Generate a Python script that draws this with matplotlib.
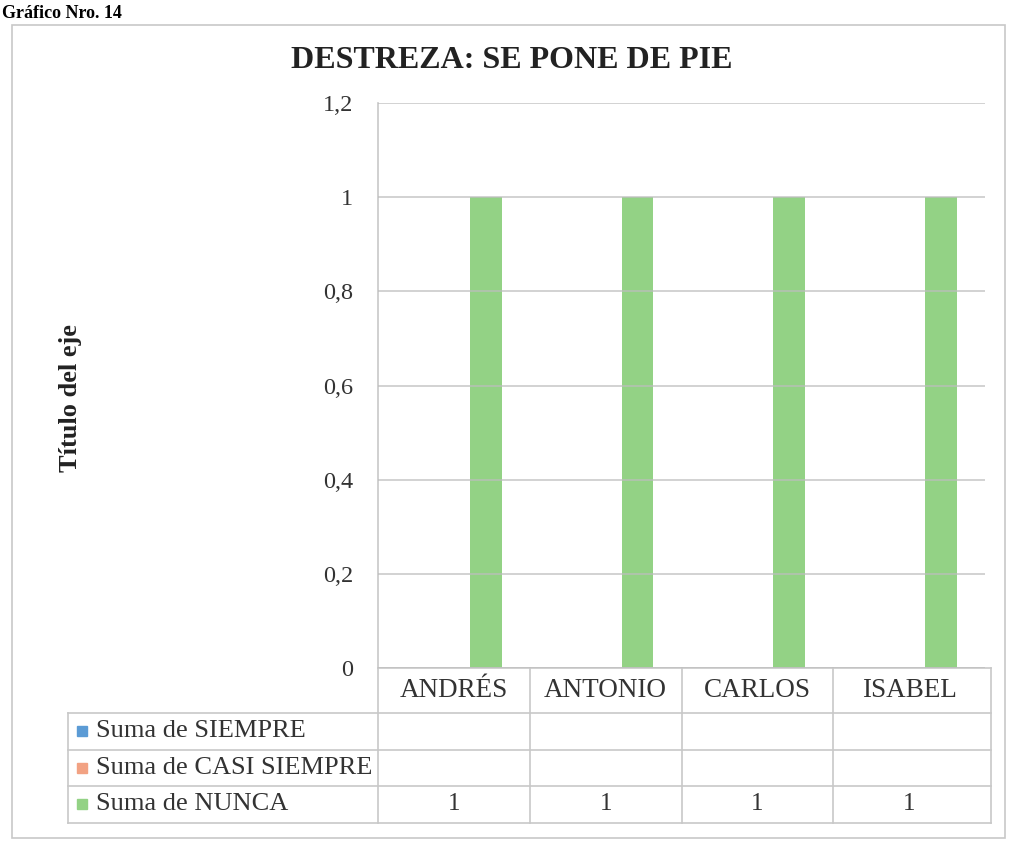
import numpy as np
import matplotlib
matplotlib.use("Agg")
import matplotlib.pyplot as plt
import matplotlib.transforms as mtransforms
from matplotlib.patches import Rectangle

plt.rcParams['font.family'] = ['Liberation Serif', 'DejaVu Serif']

title = "DESTREZA: SE PONE DE PIE"
categories = ["ANDRÉS", "ANTONIO", "CARLOS", "ISABEL"]
series_names = ["Suma de SIEMPRE", "Suma de CASI SIEMPRE", "Suma de NUNCA"]
siempre = [np.nan, np.nan, np.nan, np.nan]
casi_siempre = [np.nan, np.nan, np.nan, np.nan]
nunca = [1, 1, 1, 1]
series_colors = ["#5b9bd5", "#f2a283", "#93d285"]
yticks = [0, 0.2, 0.4, 0.6, 0.8, 1, 1.2]

W, H = 1009, 850
fig = plt.figure(figsize=(W / 100, H / 100), dpi=100)

def fx(px):
    return px / W

def fy(py):
    return 1 - py / H

# outer chart frame
fig.patches.append(Rectangle((fx(12), fy(838)), fx(1005) - fx(12), fy(25) - fy(838),
                             transform=fig.transFigure, fill=False,
                             edgecolor="#c8c8c8", lw=1.2))
fig.text(fx(2), fy(18), "Gráfico Nro. 14", fontsize=13, fontweight="bold", va="baseline")
fig.text(fx(512), fy(60), title, fontsize=23, fontweight="bold", ha="center", va="center",
         color="#222222")
fig.text(fx(70), fy(398), "Título del eje", fontsize=19, fontweight="bold", rotation=90,
         ha="center", va="center", color="#222222")

ax = fig.add_axes([fx(378), fy(668), fx(985) - fx(378), fy(103) - fy(668)])

values = [siempre, casi_siempre, nunca]
x = np.arange(len(categories))
width = 0.21
for i, (vals, col) in enumerate(zip(values, series_colors)):
    ax.bar(x + (i - 1) * width, vals, width, color=col, zorder=2)

ax.set_xlim(-0.5, len(categories) - 0.5)
ax.set_ylim(0, 1.2)
ax.set_yticks(yticks)
ax.set_yticklabels([f"{t:g}".replace(".", ",") for t in yticks], fontsize=17.5, color="#333333")
ax.tick_params(axis="y", length=0, pad=18)
ax.set_xticks([])
ax.grid(axis="y", color="#bdbdbd", lw=1.2, alpha=0.8, zorder=3)
ax.set_axisbelow(False)
for s in ["top", "right", "bottom"]:
    ax.spines[s].set_visible(False)
ax.spines["left"].set_color("#c8c8c8")
ax.spines["left"].set_linewidth(1.2)

# data table below the plot
line_kw = dict(color="#c8c8c8", lw=1.2, clip_on=False)
header_h = 45 / 565
row_h = 36.5 / 565
label_left = (68 - 378) / 607
blend = mtransforms.blended_transform_factory(ax.transData, ax.transAxes)
n = len(categories)
tops = [0, -header_h] + [-header_h - row_h * (k + 1) for k in range(len(series_names))]
bottom = tops[-1]

ax.plot([-0.5, n - 0.5 + 0.04], [0, 0], transform=blend, **line_kw)
for yv in tops[1:]:
    ax.plot([label_left, 1.01], [yv, yv], transform=ax.transAxes, **line_kw)
for k in range(n + 1):
    xe = k - 0.5 + (0.04 if k == n else 0)
    ax.plot([xe, xe], [0, bottom], transform=blend, **line_kw)
ax.plot([label_left, label_left], [tops[1], bottom], transform=ax.transAxes, **line_kw)

for k, cat in enumerate(categories):
    ax.text(k, -header_h / 2, cat, transform=blend, ha="center", va="center",
            fontsize=19.5, color="#333333")

for r, (name, vals, col) in enumerate(zip(series_names, values, series_colors)):
    yc = tops[r + 1] - row_h / 2
    ax.plot([label_left + 14 / 607], [yc], marker="s", ms=7, color=col,
            transform=ax.transAxes, clip_on=False)
    ax.text(label_left + 28 / 607, yc, name, transform=ax.transAxes, ha="left", va="center",
            fontsize=19, color="#333333")
    for k, v in enumerate(vals):
        if not np.isnan(v):
            ax.text(k, yc, f"{v:g}", transform=blend, ha="center", va="center",
                    fontsize=18, color="#333333")

fig.savefig("out.png", dpi=100)
